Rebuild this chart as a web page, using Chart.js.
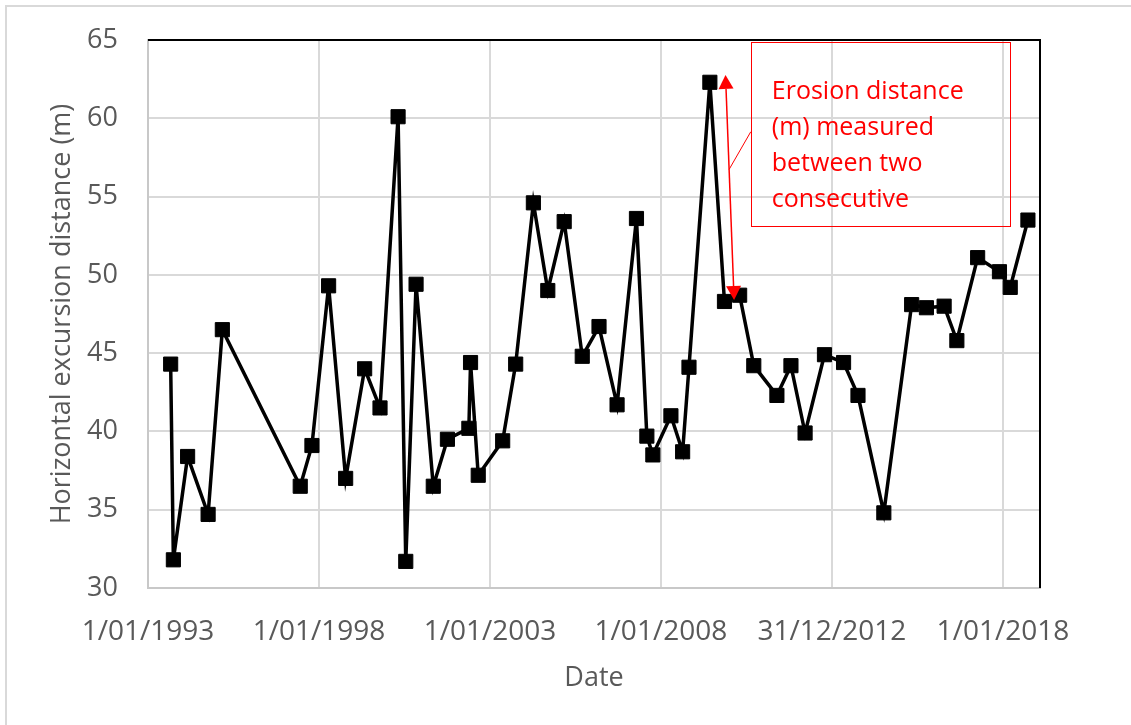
<!DOCTYPE html>
<html>
<head>
<meta charset="utf-8">
<script src="https://cdn.jsdelivr.net/npm/chart.js@4.4.1/dist/chart.umd.min.js"></script>
<style>
  html, body { margin: 0; padding: 0; background: #ffffff; }
  #wrap { width: 1131px; height: 725px; position: relative; }
  canvas { display: block; }
</style>
</head>
<body>
<div id="wrap"><canvas id="c" width="1131" height="725"></canvas></div>
<script>
// ---- data ----
const surveyDates = [
  '1993-08-31','1993-09-29','1994-02-28','1994-10-05','1995-03-06',
  '1997-06-15','1997-10-18','1998-04-14','1998-10-13','1999-05-04',
  '1999-10-15','2000-04-25','2000-07-16','2000-11-03','2001-05-06',
  '2001-10-04','2002-05-21','2002-06-08','2002-08-29','2003-05-17',
  '2003-10-03','2004-04-09','2004-09-10','2005-03-04','2005-09-13',
  '2006-03-11','2006-09-20','2007-04-15','2007-08-04','2007-10-07',
  '2008-04-17','2008-08-20','2008-10-27','2009-06-07','2009-11-10',
  '2010-04-21','2010-09-19','2011-05-24','2011-10-21','2012-03-20',
  '2012-10-13','2013-05-05','2013-10-06','2014-07-09','2015-05-02',
  '2015-10-07','2016-04-13','2016-08-27','2017-04-06','2017-11-25',
  '2018-03-20','2018-09-25'
];
const excursionDistance = [
  44.3, 31.8, 38.4, 34.7, 46.5,
  36.5, 39.1, 49.3, 37.0, 44.0,
  41.5, 60.1, 31.7, 49.4, 36.5,
  39.5, 40.2, 44.4, 37.2, 39.4,
  44.3, 54.6, 49.0, 53.4, 44.8,
  46.7, 41.7, 53.6, 39.7, 38.5,
  41.0, 38.7, 44.1, 62.3, 48.3,
  48.7, 44.2, 42.3, 44.2, 39.9,
  44.9, 44.4, 42.3, 34.8, 48.1,
  47.9, 48.0, 45.8, 51.1, 50.2,
  49.2, 53.5
];
const xTickDates  = ['1993-01-01','1998-01-01','2003-01-01','2008-01-01','2012-12-31','2018-01-01'];
const xTickLabels = ['1/01/1993','1/01/1998','1/01/2003','1/01/2008','31/12/2012','1/01/2018'];
const xRange = ['1993-01-01','2019-02-01'];
const yTicks = [30, 35, 40, 45, 50, 55, 60, 65];
const annotationLines = ['Erosion distance', '(m) measured', 'between two', 'consecutive'];

// ---- helpers ----
function day(s) {
  const p = s.split('-').map(Number);
  return Math.round(Date.UTC(p[0], p[1] - 1, p[2]) / 86400000);
}
const points = surveyDates.map((d, i) => ({ x: day(d), y: excursionDistance[i] }));
const tickDays = xTickDates.map(day);
const labelFor = {};
tickDays.forEach((v, i) => { labelFor[v] = xTickLabels[i]; });

const FONT = "'Open Sans', 'Noto Sans', sans-serif";
const GREY = '#595959';

// Outer frame (top + left light lines)
const framePlugin = {
  id: 'frame',
  beforeDraw(chart) {
    const ctx = chart.ctx;
    ctx.save();
    ctx.fillStyle = '#ffffff';
    ctx.fillRect(0, 0, chart.width, chart.height);
    ctx.strokeStyle = '#d9d9d9';
    ctx.lineWidth = 2;
    ctx.beginPath();
    ctx.moveTo(6, chart.height);
    ctx.lineTo(6, 6);
    ctx.lineTo(chart.width, 6);
    ctx.stroke();
    ctx.restore();
  }
};

// Plot-area border: black top and right
const plotBorderPlugin = {
  id: 'plotBorder',
  beforeDatasetsDraw(chart) {
    const { ctx, chartArea: a } = chart;
    ctx.save();
    ctx.strokeStyle = '#000000';
    ctx.lineWidth = 2;
    ctx.beginPath();
    ctx.moveTo(a.left, a.top);
    ctx.lineTo(a.right, a.top);
    ctx.lineTo(a.right, a.bottom);
    ctx.stroke();
    ctx.restore();
  }
};

// Red annotation: text box + double arrow + leader line (placed in data units)
const annotationPlugin = {
  id: 'erosionNote',
  afterDatasetsDraw(chart) {
    const { ctx, scales: { x, y } } = chart;
    const X = s => x.getPixelForValue(day(s));
    const Y = v => y.getPixelForValue(v);
    const red = '#ff0000';
    ctx.save();
    // box
    const bx1 = X('2010-08-18'), bx2 = X('2018-03-15');
    const by1 = Y(64.87), by2 = Y(53.12);
    ctx.strokeStyle = red;
    ctx.lineWidth = 1;
    ctx.strokeRect(Math.round(bx1) + 0.5, Math.round(by1) + 0.5, Math.round(bx2 - bx1), Math.round(by2 - by1));
    // text
    ctx.fillStyle = red;
    ctx.font = '25px ' + FONT;
    ctx.textAlign = 'left';
    ctx.textBaseline = 'alphabetic';
    annotationLines.forEach((t, i) => {
      ctx.fillText(t, bx1 + 21, by1 + 57 + i * 36);
    });
    // arrow
    const ax1 = X('2009-11-21'), ay1 = Y(62.77);
    const ax2 = X('2010-02-21'), ay2 = Y(48.40);
    const ang = Math.atan2(ay2 - ay1, ax2 - ax1);
    const headL = 14, headW = 7.5;
    ctx.strokeStyle = red;
    ctx.lineWidth = 1.5;
    ctx.beginPath();
    ctx.moveTo(ax1 + Math.cos(ang) * headL, ay1 + Math.sin(ang) * headL);
    ctx.lineTo(ax2 - Math.cos(ang) * headL, ay2 - Math.sin(ang) * headL);
    ctx.stroke();
    function head(tx, ty, dir) {
      const bxp = tx - Math.cos(dir) * headL, byp = ty - Math.sin(dir) * headL;
      const nx = -Math.sin(dir), ny = Math.cos(dir);
      ctx.beginPath();
      ctx.moveTo(tx, ty);
      ctx.lineTo(bxp + nx * headW, byp + ny * headW);
      ctx.lineTo(bxp - nx * headW, byp - ny * headW);
      ctx.closePath();
      ctx.fill();
    }
    head(ax2, ay2, ang);
    head(ax1, ay1, ang + Math.PI);
    // leader line from box to arrow
    const t = 0.42;
    const lx = ax1 + (ax2 - ax1) * t, ly = ay1 + (ay2 - ay1) * t;
    ctx.lineWidth = 1;
    ctx.beginPath();
    ctx.moveTo(bx1, Y(59.14));
    ctx.lineTo(lx, ly);
    ctx.stroke();
    ctx.restore();
  }
};

new Chart(document.getElementById('c'), {
  type: 'line',
  data: {
    datasets: [{
      data: points,
      borderColor: '#000000',
      backgroundColor: '#000000',
      borderWidth: 3.5,
      tension: 0,
      pointStyle: 'rect',
      pointRadius: 10,
      pointHoverRadius: 10,
      pointBackgroundColor: '#000000',
      pointBorderColor: '#000000',
      pointBorderWidth: 1,
      clip: false
    }]
  },
  options: {
    responsive: false,
    devicePixelRatio: 1,
    animation: false,
    events: [],
    layout: { padding: { top: 40, right: 91, left: 0, bottom: 0 } },
    plugins: {
      legend: { display: false },
      tooltip: { enabled: false }
    },
    scales: {
      x: {
        type: 'linear',
        min: day(xRange[0]),
        max: day(xRange[1]),
        afterBuildTicks(scale) { scale.ticks = tickDays.map(v => ({ value: v })); },
        afterFit(scale) { scale.height = 137; },
        grid: { color: '#d9d9d9', lineWidth: 2, drawTicks: false },
        border: { display: true, color: '#c8c8c8', width: 2 },
        ticks: {
          autoSkip: false,
          maxRotation: 0,
          padding: 27,
          color: GREY,
          font: { family: FONT, size: 28 },
          callback: v => labelFor[v] || ''
        },
        title: {
          display: true,
          text: 'Date',
          color: GREY,
          font: { family: FONT, size: 27 },
          padding: { top: 0, bottom: 30 }
        }
      },
      y: {
        min: 30,
        max: 65,
        afterBuildTicks(scale) { scale.ticks = yTicks.map(v => ({ value: v })); },
        afterFit(scale) {
          scale.width = 148;
          scale.paddingTop = 0;
          scale.paddingBottom = 0;
        },
        grid: { color: '#d9d9d9', lineWidth: 2, drawTicks: false },
        border: { display: true, color: '#c8c8c8', width: 2 },
        ticks: {
          padding: 30,
          color: GREY,
          font: { family: FONT, size: 27 }
        },
        title: {
          display: true,
          text: 'Horizontal excursion distance (m)',
          color: GREY,
          font: { family: FONT, size: 27 },
          padding: { top: 46, bottom: 0 }
        }
      }
    }
  },
  plugins: [framePlugin, plotBorderPlugin, annotationPlugin]
});
</script>
</body>
</html>
